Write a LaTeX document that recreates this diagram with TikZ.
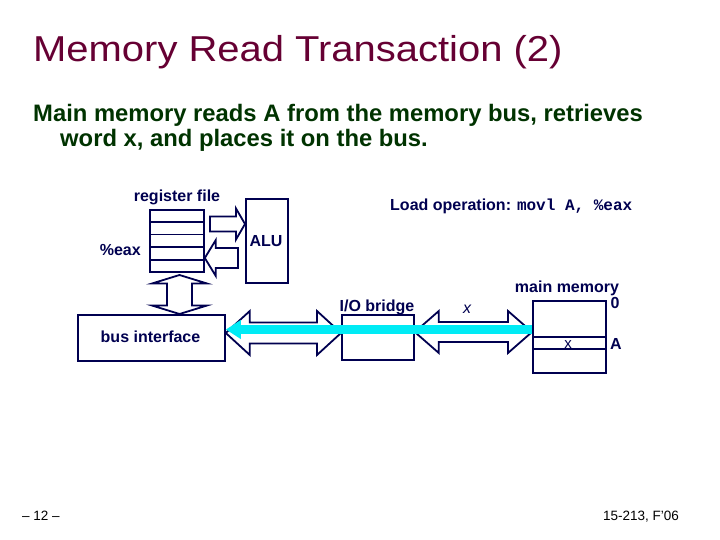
\documentclass[tikz,border=0pt]{standalone}
\usepackage{fontspec}
\setmainfont{Liberation Sans}
\setmonofont{Liberation Mono}
\newfontfamily\titlefont[FakeStretch=1.11]{Liberation Sans}
\usetikzlibrary{arrows.meta,calc}
\definecolor{navy}{RGB}{0,0,80}
\definecolor{maroon}{RGB}{102,0,51}
\definecolor{dgreen}{RGB}{0,51,0}
\definecolor{busc}{RGB}{0,235,245}
\tikzset{
  box/.style={draw=navy, line width=1.8pt, inner sep=0pt, fill=white},
  blockarrow/.style={draw=navy, line width=1.8pt, fill=white, line join=miter},
  lab/.style={text=navy, font=\bfseries\fontsize{16}{19}\selectfont, inner sep=0pt, anchor=base},
  rowline/.style={draw=navy, line width=1.8pt},
}
\newcommand\hdarrow[5]{\draw[blockarrow] let \p1=(#1),\p2=(#2) in
  (\x1,\y1) -- (\x1+#3,\y1+#4) -- (\x1+#3,\y1+#5) -- (\x2-#3,\y1+#5) -- (\x2-#3,\y1+#4) -- (\x2,\y1)
  -- (\x2-#3,\y1-#4) -- (\x2-#3,\y1-#5) -- (\x1+#3,\y1-#5) -- (\x1+#3,\y1-#4) -- cycle;}
\newcommand\vdarrow[5]{\draw[blockarrow] let \p1=(#1),\p2=(#2) in
  (\x1,\y1) -- (\x1+#4,\y1-#3) -- (\x1+#5,\y1-#3) -- (\x1+#5,\y2+#3) -- (\x1+#4,\y2+#3) -- (\x1,\y2)
  -- (\x1-#4,\y2+#3) -- (\x1-#5,\y2+#3) -- (\x1-#5,\y1-#3) -- (\x1-#4,\y1-#3) -- cycle;}
\newcommand\hsarrow[5]{\draw[blockarrow] let \p1=(#1),\p2=(#2) in
  (\x2,\y2) -- (\x2#3,\y2+#4) -- (\x2#3,\y2+#5) -- (\x1,\y2+#5) -- (\x1,\y2-#5) -- (\x2#3,\y2-#5) -- (\x2#3,\y2-#4) -- cycle;}
\begin{document}
\begin{tikzpicture}[x=1pt,y=-1pt]
\path[use as bounding box, fill=white] (0,0) rectangle (720,540);
% title and text
\node[anchor=base west, inner sep=0pt, text=maroon, font=\titlefont\fontsize{36}{40}\selectfont] (title) at (33,62) {Memory Read Transaction (2)};
\node[anchor=base west, inner sep=0pt, text=dgreen, font=\bfseries\fontsize{23.8}{25}\selectfont] (sub1) at (33,122) {Main memory reads A from the memory bus, retrieves};
\node[anchor=base west, inner sep=0pt, text=dgreen, font=\bfseries\fontsize{23.8}{25}\selectfont] (sub2) at (60,147) {word x, and places it on the bus.};
% boxes
\node[box, minimum width=54pt, minimum height=62pt, anchor=north west] (rf) at (149,209) {};
\foreach \i in {1,...,4}
  \draw[rowline] ($(rf.north west)!\i/5!(rf.south west)$) -- ($(rf.north east)!\i/5!(rf.south east)$);
\node[box, minimum width=42pt, minimum height=84pt, anchor=north west] (alu) at (245,198) {};
\node[box, minimum width=147pt, minimum height=46pt, anchor=north west] (busif) at (77,314) {};
\node[box, minimum width=72pt, minimum height=45pt, anchor=north west] (iob) at (341,314) {};
\node[box, minimum width=73pt, minimum height=72pt, anchor=north west] (mm) at (532,300) {};
\draw[rowline] (mm.west |- 0,337) -- (mm.east |- 0,337);
\draw[rowline] (mm.west |- 0,349) -- (mm.east |- 0,349);
% labels
\node[lab] (rflab) at (177,202) {register file};
\node[lab, anchor=base east] (eax) at (141,255) {\%eax};
\node[lab] (alulab) at (266,246) {ALU};
\node[lab] (bilab) at (150.5,342) {bus interface};
\node[lab] (ioblab) at (377,311) {I/O bridge};
\node[lab] (mmlab) at (567,292) {main memory};
\node[lab] (zero) at (615,308) {0};
\node[lab] (addrA) at (616,349) {A};
\node[lab, font=\fontsize{15}{18}\selectfont] (xcell) at (568,348) {x};
\node[lab, font=\itshape\fontsize{16}{19}\selectfont] (xbus) at (467,313) {x};
\node[lab, anchor=base west] (load) at (390,211) {Load operation: {\ttfamily\bfseries movl A, \%eax}};
% footer
\node[anchor=base west, inner sep=0pt, font=\fontsize{13.5}{16}\selectfont] (pg) at (22,520) {\textendash\ 12 \textendash};
\node[anchor=base east, inner sep=0pt, font=\fontsize{13.5}{16}\selectfont] (course) at (679,520) {15-213, F'06};
% block arrows
\coordinate (ra1) at (210,224);
\hsarrow{ra1}{alu.west |- ra1}{-9pt}{15.5pt}{7.5pt}
\coordinate (la1) at (238,258);
\hsarrow{la1}{rf.east |- la1}{+11pt}{18pt}{10pt}
\coordinate (va1) at (179.5,275);
\vdarrow{va1}{va1 |- busif.north}{8.5pt}{27.5pt}{12.5pt}
\coordinate (b1) at (busif.east |- 0,333);
\coordinate (b2) at (iob.west |- 0,333);
\hdarrow{b1}{b2}{24pt}{22pt}{10.5pt}
\coordinate (m1) at (iob.east |- 0,332);
\coordinate (m2) at (mm.west |- 0,332);
\hdarrow{m1}{m2}{24pt}{21pt}{10pt}
% data on the bus
\coordinate (c1) at (mm.west |- 0,329.5);
\coordinate (c2) at (busif.east |- 0,329.5);
\draw[busc, line width=9pt, -{Triangle[length=15pt,width=18pt]}] (c1) -- (c2);
\end{tikzpicture}
\end{document}
